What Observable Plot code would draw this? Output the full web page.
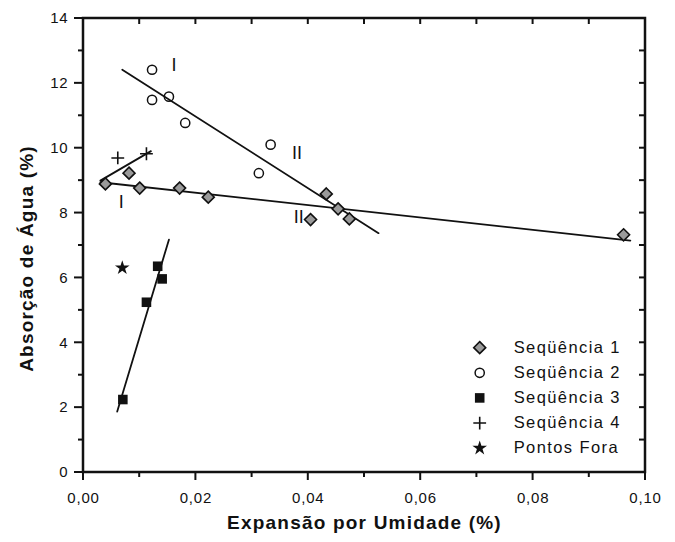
<!DOCTYPE html>
<html>
<head>
<meta charset="utf-8">
<script src="https://cdn.jsdelivr.net/npm/d3@7"></script>
<script src="https://cdn.jsdelivr.net/npm/@observablehq/plot@0.6"></script>
<style>
  html, body { margin: 0; padding: 0; background: #fff; }
</style>
</head>
<body>
<div id="chart"></div>
<script>
// ---- Data ----
const seq1X = [0.0039, 0.0081, 0.0100, 0.0171, 0.0222, 0.0404, 0.0432, 0.0453, 0.0473, 0.0961];
const seq1Y = [8.90, 9.23, 8.77, 8.77, 8.49, 7.80, 8.59, 8.13, 7.82, 7.33];
const seq2X = [0.0122, 0.0122, 0.0152, 0.0181, 0.0312, 0.0333];
const seq2Y = [12.42, 11.49, 11.59, 10.78, 9.23, 10.11];
const seq3X = [0.0070, 0.0112, 0.0132, 0.0140];
const seq3Y = [2.25, 5.25, 6.36, 5.97];
const seq4X = [0.0061, 0.0112];
const seq4Y = [9.70, 9.83];
const foraX = [0.0069];
const foraY = [6.31];

// fitted line end points (as drawn)
const fit1X = [0.0030, 0.0973], fit1Y = [8.95, 7.15];
const fit2X = [0.0069, 0.0525], fit2Y = [12.42, 7.38];
const fit3X = [0.0060, 0.0152], fit3Y = [1.88, 7.18];
const fit4X = [0.0030, 0.0120], fit4Y = [9.00, 9.91];

// region labels
const regionText = ["I", "II", "I", "II"];
const regionX = [0.0161, 0.0380, 0.0067, 0.0383];
const regionY = [12.55, 9.83, 8.33, 7.87];

const legendNames = ["Seqüência 1", "Seqüência 2", "Seqüência 3", "Seqüência 4", "Pontos Fora"];
const xMajorTicks = [0, 0.02, 0.04, 0.06, 0.08, 0.10];
const xMinorTicks = [0.01, 0.03, 0.05, 0.07, 0.09];
const yMajorTicks = [0, 2, 4, 6, 8, 10, 12, 14];
const yMinorTicks = [1, 3, 5, 7, 9, 11, 13];
const xTitle = "Expansão por Umidade (%)";
const yTitle = "Absorção de Água (%)";

// ---- helpers ----
const zip = (xs, ys) => xs.map((x, i) => ({x, y: ys[i]}));
const fmtX = d => d3.format(".2f")(d).replace(".", ",");
const xDomain = [0, 0.10], yDomain = [0, 14];

const symbolStyles = [
  {symbol: "diamond2", r: 5.4, fill: "#9a9a9a", stroke: "#111", strokeWidth: 1.6},
  {symbol: "circle", r: 4.6, fill: "none", stroke: "#111", strokeWidth: 1.5},
  {symbol: "square", r: 5.4, fill: "#111", stroke: "none"},
  {symbol: "plus", r: 4.2, fill: "none", stroke: "#111", strokeWidth: 1.6},
  {symbol: "star", r: 4.6, fill: "#111", stroke: "none"}
];
const seriesData = [zip(seq1X, seq1Y), zip(seq2X, seq2Y), zip(seq3X, seq3Y), zip(seq4X, seq4Y), zip(foraX, foraY)];
const legendRows = legendNames.map((name, i) => ({name, i, x: 0.0705, y: 3.85 - i * 0.775}));

const fits = [zip(fit1X, fit1Y), zip(fit2X, fit2Y), zip(fit3X, fit3Y), zip(fit4X, fit4Y)];
const regions = regionText.map((t, i) => ({t, x: regionX[i], y: regionY[i]}));
const allX = xMajorTicks.concat(xMinorTicks);
const allY = yMajorTicks.concat(yMinorTicks);

// frame + tick marks drawn through Plot's scales (custom function mark)
function frameAndTicks(index, scales, values, dims) {
  const x = scales.x, y = scales.y;
  const L = dims.marginLeft, R = dims.width - dims.marginRight;
  const T = dims.marginTop, B = dims.height - dims.marginBottom;
  const g = d3.create("svg:g").attr("stroke", "#111").attr("stroke-width", 2).attr("fill", "none");
  const seg = (x1, y1, x2, y2) => g.append("line").attr("x1", x1).attr("y1", y1).attr("x2", x2).attr("y2", y2);
  xMajorTicks.forEach(v => seg(x(v), B, x(v), B + 8));
  xMinorTicks.forEach(v => seg(x(v), B, x(v), B + 5));
  allX.forEach(v => seg(x(v), T, x(v), T + 6));
  yMajorTicks.forEach(v => seg(L - 9, y(v), L, y(v)));
  yMinorTicks.forEach(v => seg(L - 5, y(v), L, y(v)));
  allY.forEach(v => seg(R - 6, y(v), R, y(v)));
  g.append("rect").attr("x", L).attr("y", T).attr("width", R - L).attr("height", B - T).attr("stroke-width", 2.5);
  return g.node();
}

const marks = [
  frameAndTicks,
  // tick labels
  Plot.axisX({ticks: xMajorTicks, tickSize: 0, tickPadding: 20, tickFormat: fmtX, label: null}),
  Plot.axisY({ticks: yMajorTicks, tickSize: 0, tickPadding: 15, label: null}),
  // fitted lines
  ...fits.map(f => Plot.line(f, {x: "x", y: "y", stroke: "#111", strokeWidth: 1.8})),
  // points
  ...seriesData.map((d, i) => Plot.dot(d, {x: "x", y: "y", ...symbolStyles[i]})),
  // region labels
  Plot.text(regions, {x: "x", y: "y", text: "t", fontSize: 18, fill: "#111"}),
  // legend
  ...legendRows.map((row, i) => Plot.dot([row], {x: "x", y: "y", ...symbolStyles[i]})),
  Plot.text(legendRows, {x: "x", y: "y", text: "name", dx: 34, textAnchor: "start", fontSize: 16.5, fill: "#111"}),
  // axis titles
  Plot.text([xTitle], {frameAnchor: "bottom", dy: 56, textAnchor: "middle", fontSize: 19, fontWeight: "bold", fill: "#111"}),
  Plot.text([yTitle], {frameAnchor: "left", dx: -57, dy: 13, textAnchor: "middle", rotate: -90, fontSize: 19, fontWeight: "bold", fill: "#111"})
];

const chart = Plot.plot({
  width: 675,
  height: 542,
  marginLeft: 83,
  marginRight: 30,
  marginTop: 18,
  marginBottom: 70,
  style: {fontFamily: "'Liberation Sans', Arial, Helvetica, sans-serif", fontSize: "15px", color: "#111", background: "#fff"},
  x: {domain: xDomain},
  y: {domain: yDomain},
  marks
});
document.getElementById("chart").appendChild(chart);

// widen letter spacing to match the reference's typesetting
d3.select(chart).selectAll("text").each(function() {
  const t = this.textContent;
  let ls = null;
  if (t === xTitle) ls = "1.2px";
  else if (t === yTitle) ls = "1.2px";
  else if (legendNames.includes(t)) ls = "1.4px";
  else if (/^\d/.test(t)) ls = "0.8px";
  if (ls) this.style.letterSpacing = ls;
});
</script>
</body>
</html>
